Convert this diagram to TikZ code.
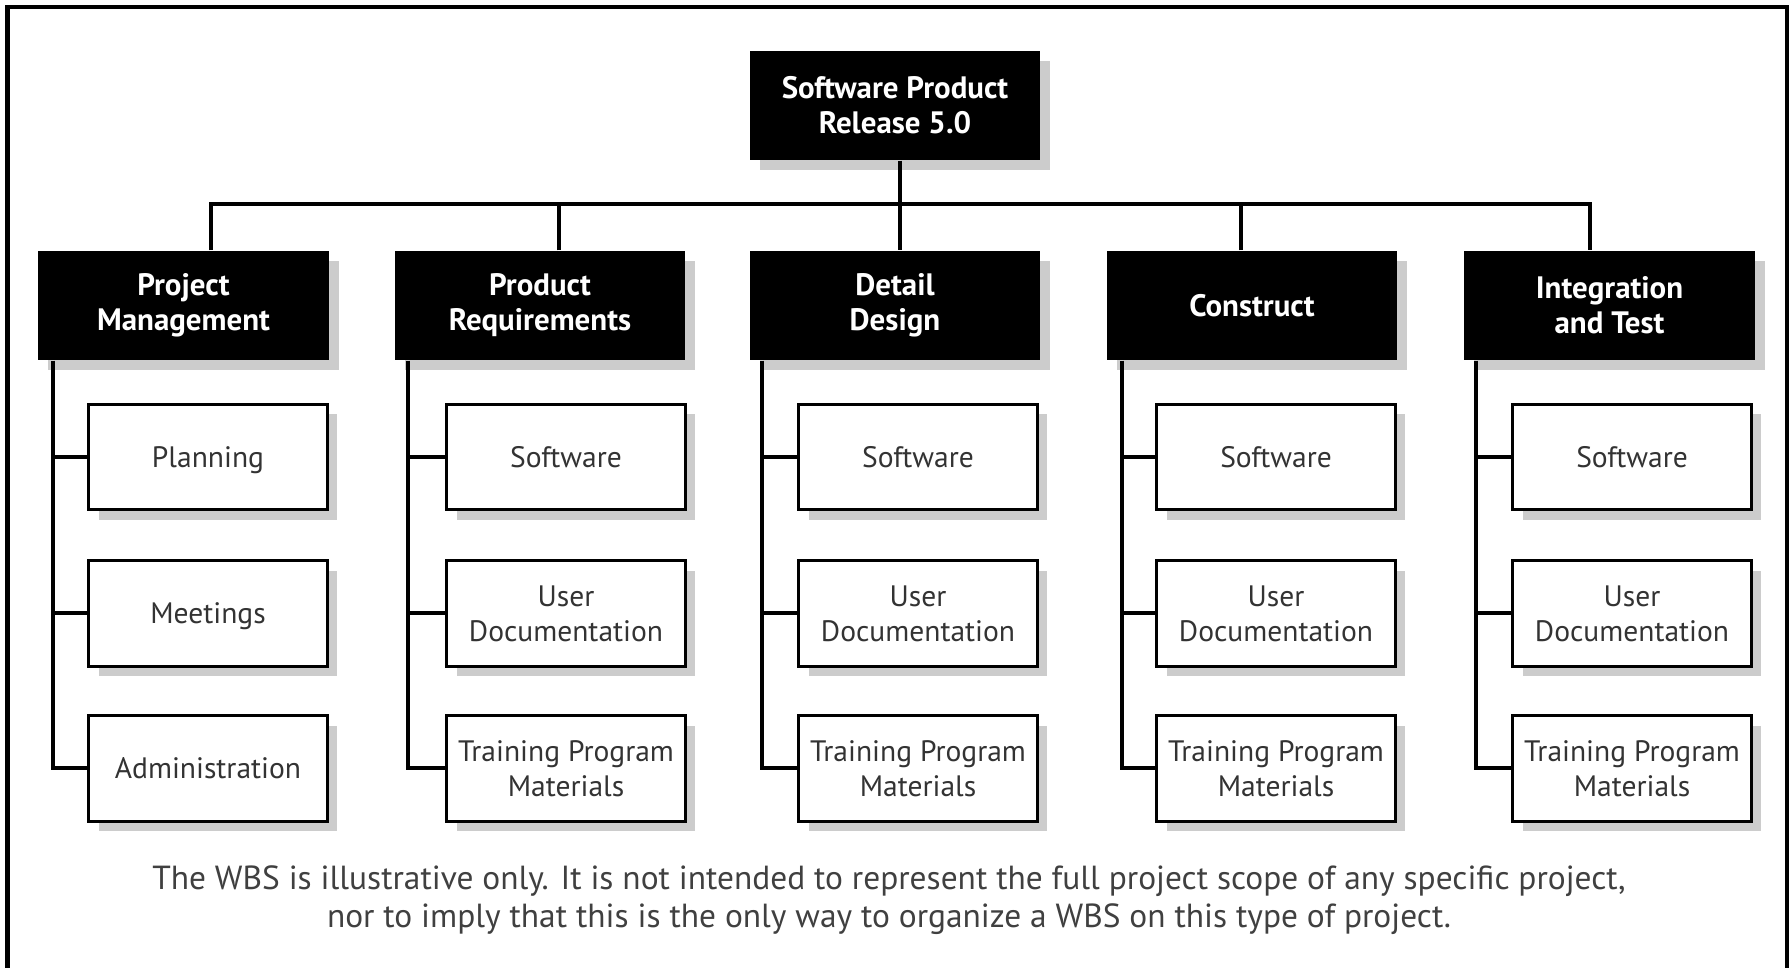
\documentclass[tikz,border=0pt]{standalone}
\usepackage{fontspec}
\setmainfont{PT Sans}
\usetikzlibrary{shadows}

\begin{document}
\begin{tikzpicture}[x=0.01cm, y=0.01cm]
\tikzstyle{every node}+=[inner sep=0pt, align=center]
\tikzstyle{shade}=[drop shadow={shadow xshift=0.1cm, shadow yshift=-0.1cm, fill=black!20, opacity=1}]
\tikzstyle{topbox}=[shade, fill=black, text=white, font=\fontsize{8.8}{10}\selectfont\bfseries, minimum width=2.9cm, minimum height=1.09cm]
\tikzstyle{subbox}=[shade, draw=black, line width=0.03cm, fill=white, text=black!80, font=\fontsize{8.4}{10}\selectfont, text depth=0pt, minimum width=2.38cm, minimum height=1.05cm]
\tikzstyle{link}=[line width=0.04cm]
\useasboundingbox (0,0) rectangle (1789,-968);
\draw [link] (7.5,-968) |- (1787,-7) -- (1787,-968);
% top
\node [topbox] (release) at (895,-105.5) {Software Product\\Release 5.0};
\node [topbox] (pm) at (183.5,-305.5) {Project\\Management};
\node [topbox] (pr) at (540,-305.5) {Product\\Requirements};
\node [topbox] (dd) at (895,-305.5) {Detail\\Design};
\node [topbox] (con) at (1252,-305.5) {Construct};
\node [topbox] (it) at (1609.5,-305.5) {Integration\\and Test};
\coordinate (bus) at (900,-204);
\draw [link] ([xshift=0.05cm]release.south) -- ([xshift=0.05cm]dd.north);
\draw [link] ([xshift=0.275cm]pm.north) |- (bus) -| ([xshift=-0.195cm]it.north);
\draw [link] ([xshift=0.19cm]pr.north) -- ++(0,47);
\draw [link] ([xshift=-0.11cm]con.north) -- ++(0,47);
% project management
\node [subbox] (pm1) at (208,-457) {Planning};
\node [subbox] (pm2) at (208,-613.5) {Meetings};
\node [subbox] (pm3) at (208,-768.5) {Administration};
\coordinate (pmt) at (53,0);
\draw [link] (pm.south -| pmt) |- (pm3.west);
\draw [link] (pmt |- pm1.west) -- (pm1.west);
\draw [link] (pmt |- pm2.west) -- (pm2.west);
% product requirements
\node [subbox] (pr1) at (566,-457) {Software};
\node [subbox] (pr2) at (566,-613.5) {User\\Documentation};
\node [subbox] (pr3) at (566,-768.5) {Training Program\\Materials};
\coordinate (prt) at (408,0);
\draw [link] (pr.south -| prt) |- (pr3.west);
\draw [link] (prt |- pr1.west) -- (pr1.west);
\draw [link] (prt |- pr2.west) -- (pr2.west);
% detail design
\node [subbox] (dd1) at (918,-457) {Software};
\node [subbox] (dd2) at (918,-613.5) {User\\Documentation};
\node [subbox] (dd3) at (918,-768.5) {Training Program\\Materials};
\coordinate (ddt) at (762,0);
\draw [link] (dd.south -| ddt) |- (dd3.west);
\draw [link] (ddt |- dd1.west) -- (dd1.west);
\draw [link] (ddt |- dd2.west) -- (dd2.west);
% construct
\node [subbox] (con1) at (1276,-457) {Software};
\node [subbox] (con2) at (1276,-613.5) {User\\Documentation};
\node [subbox] (con3) at (1276,-768.5) {Training Program\\Materials};
\coordinate (cont) at (1122,0);
\draw [link] (con.south -| cont) |- (con3.west);
\draw [link] (cont |- con1.west) -- (con1.west);
\draw [link] (cont |- con2.west) -- (con2.west);
% integration and test
\node [subbox] (it1) at (1632,-457) {Software};
\node [subbox] (it2) at (1632,-613.5) {User\\Documentation};
\node [subbox] (it3) at (1632,-768.5) {Training Program\\Materials};
\coordinate (itt) at (1476,0);
\draw [link] (it.south -| itt) |- (it3.west);
\draw [link] (itt |- it1.west) -- (it1.west);
\draw [link] (itt |- it2.west) -- (it2.west);
% note
\node [text=black!75, font=\fontsize{9.5}{11}\selectfont] (note) at (889,-900) {The WBS is illustrative only. It is not intended to represent the full project scope of any specific project,\\nor to imply that this is the only way to organize a WBS on this type of project.};
\end{tikzpicture}
\end{document}
